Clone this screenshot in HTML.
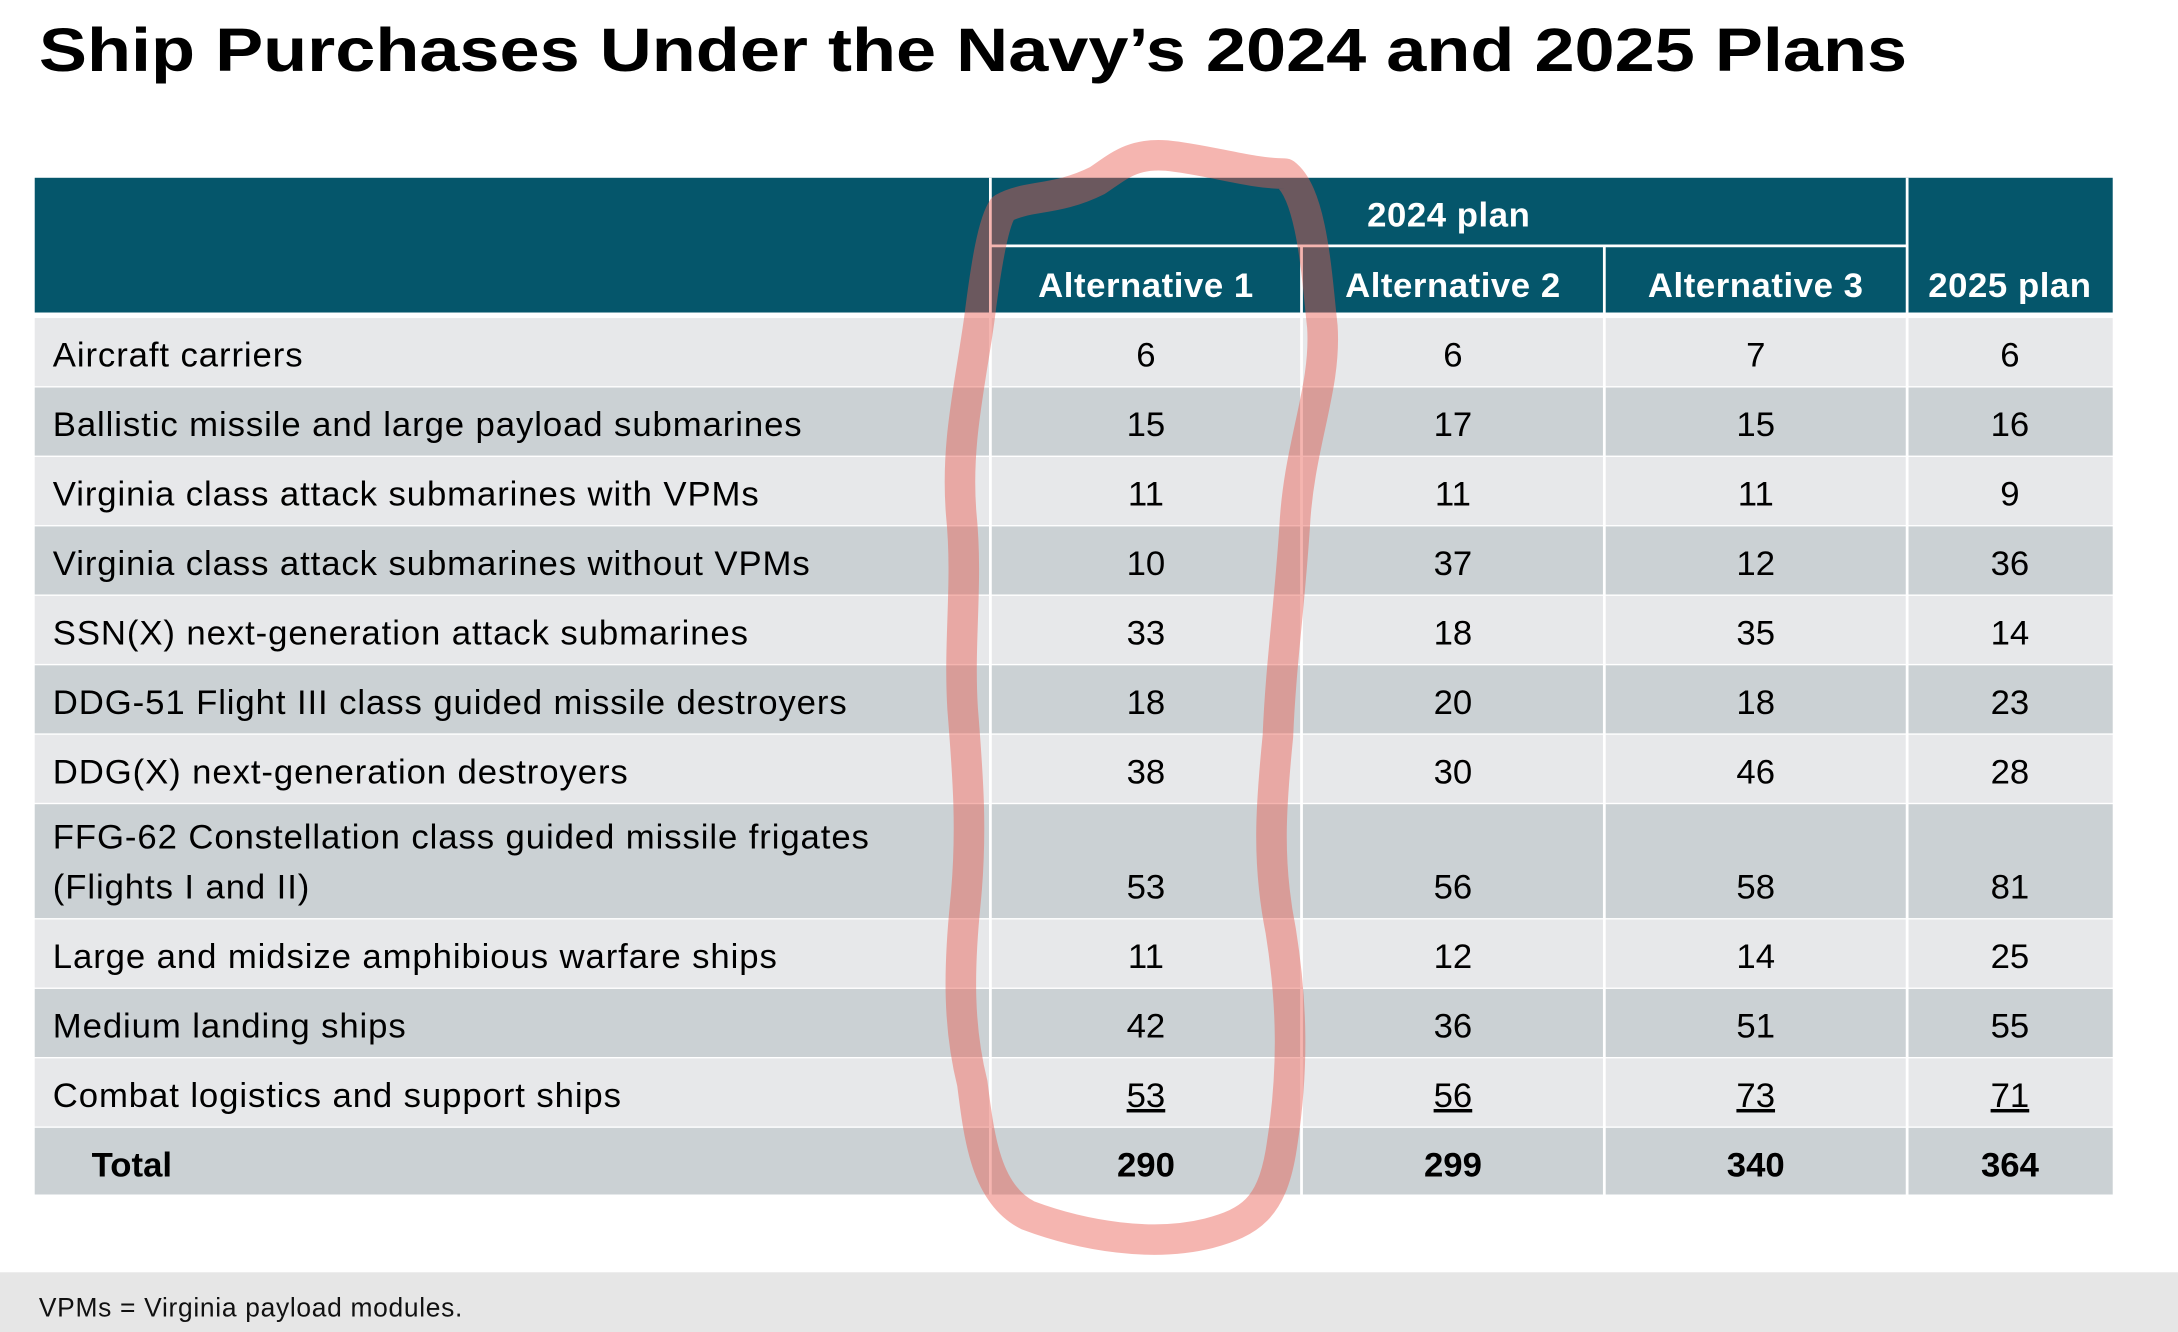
<!DOCTYPE html>
<html><head><meta charset="utf-8"><style>
html,body{margin:0;padding:0;background:#fff;}
svg{display:block;}
text{font-family:"Liberation Sans",Arial,sans-serif;}
</style></head><body>
<svg id="chart" width="2178" height="1332" viewBox="0 0 1568 959" preserveAspectRatio="none" xmlns="http://www.w3.org/2000/svg">
<text x="28" y="51" font-size="44" font-weight="bold" textLength="1345" lengthAdjust="spacingAndGlyphs" fill="#000">Ship Purchases Under the Navy’s 2024 and 2025 Plans</text>
<g id="tbl"></g>
<rect x="0" y="916" width="1568" height="43" fill="#e6e6e6"/>
<text x="28" y="948" font-size="19" letter-spacing="0.5" fill="#111">VPMs = Virginia payload modules.</text>
<path fill="none" stroke="rgba(232,90,80,0.45)" stroke-width="22" stroke-linecap="round" stroke-linejoin="round"
d="M722,150 C740,140 760,145 790,130 C805,120 815,110 840,112 C870,115 900,125 925,125 C945,140 948,200 952,235 C955,280 935,320 932,380 C928,440 922,480 920,530 C915,580 912,620 922,670 C930,720 932,770 922,830 C915,870 900,880 870,888 C830,898 780,890 740,875 C710,860 705,820 700,780 C690,740 690,700 695,650 C700,600 697,560 693,510 C690,460 697,420 692,370 C688,320 698,280 705,230 C710,190 715,160 722,150 Z"/>
</svg>
<script>
const categories=["Aircraft carriers","Ballistic missile and large payload submarines","Virginia class attack submarines with VPMs","Virginia class attack submarines without VPMs","SSN(X) next-generation attack submarines","DDG-51 Flight III class guided missile destroyers","DDG(X) next-generation destroyers","FFG-62 Constellation class guided missile frigates|(Flights I and II)","Large and midsize amphibious warfare ships","Medium landing ships","Combat logistics and support ships"];
const alt1=[6,15,11,10,33,18,38,53,11,42,53];
const alt2=[6,17,11,37,18,20,30,56,12,36,56];
const alt3=[7,15,11,12,35,18,46,58,14,51,73];
const plan2025=[6,16,9,36,14,23,28,81,25,55,71];
const columnLabels=["Alternative 1","Alternative 2","Alternative 3","2025 plan"];
const NS="http://www.w3.org/2000/svg";
const g=document.getElementById('tbl');
function mk(t,a,txt){const e=document.createElementNS(NS,t);for(const k in a)e.setAttribute(k,a[k]);if(txt!==undefined)e.textContent=txt;g.appendChild(e);return e;}
const colX=[25,713,937,1155,1373,1521];
let h=mk('rect',{x:25,y:128,width:1496,height:97,fill:'#05566b'});


mk('line',{x1:713,y1:128,x2:713,y2:225,stroke:'#fff','stroke-width':2});
mk('line',{x1:1373,y1:128,x2:1373,y2:225,stroke:'#fff','stroke-width':2});
mk('line',{x1:713,y1:177,x2:1373,y2:177,stroke:'#fff','stroke-width':2});
mk('line',{x1:937,y1:177,x2:937,y2:225,stroke:'#fff','stroke-width':2});
mk('line',{x1:1155,y1:177,x2:1155,y2:225,stroke:'#fff','stroke-width':2});
let ht=mk('text',{x:1043,y:163,'font-size':25,'letter-spacing':0.4,'font-weight':'bold',fill:'#fff','text-anchor':'middle'},'2024 plan');


columnLabels.forEach((c,i)=>{const t=mk('text',{x:(colX[i+1]+colX[i+2])/2,y:214,'font-size':25,'letter-spacing':0.4,'font-weight':'bold',fill:'#fff','text-anchor':'middle'},c);

});
let y=229;
const series=[alt1,alt2,alt3,plan2025];
function rowH(i){return categories[i].includes('|')?82:49;}
categories.forEach((cat,i)=>{
 const hh=rowH(i);
 const r=mk('rect',{x:25,y:y,width:1496,height:hh,fill:i%2?'#cbd1d4':'#e7e8ea'});
 
 
 const base=y+hh-14;
 const parts=cat.split('|');
 parts.forEach((p,j)=>{const t=mk('text',{x:38,y:base-(parts.length-1-j)*36,'font-size':25,'letter-spacing':0.65,fill:'#000'},p);
 
 });
 series.forEach((s,k)=>{const t=mk('text',{x:(colX[k+1]+colX[k+2])/2,y:base,'font-size':25,fill:'#000','text-anchor':'middle','text-decoration':i===categories.length-1?'underline':'none'},String(s[i]));
 
 });
 y+=hh+1;
});
const tr=mk('rect',{x:25,y:y,width:1496,height:48,fill:'#cbd1d4'});


const tl=mk('text',{x:66,y:y+35,'font-size':25,'font-weight':'bold',fill:'#000'},'Total');


series.forEach((s,k)=>{const t=mk('text',{x:(colX[k+1]+colX[k+2])/2,y:y+35,'font-size':25,'font-weight':'bold',fill:'#000','text-anchor':'middle'},String(s.reduce((a,b)=>a+b,0)));

});
const endY=y+48;
[713,937,1155,1373].forEach(x=>mk('line',{x1:x,y1:227,x2:x,y2:endY,stroke:'#fff','stroke-width':2}));
</script>
</body></html>
